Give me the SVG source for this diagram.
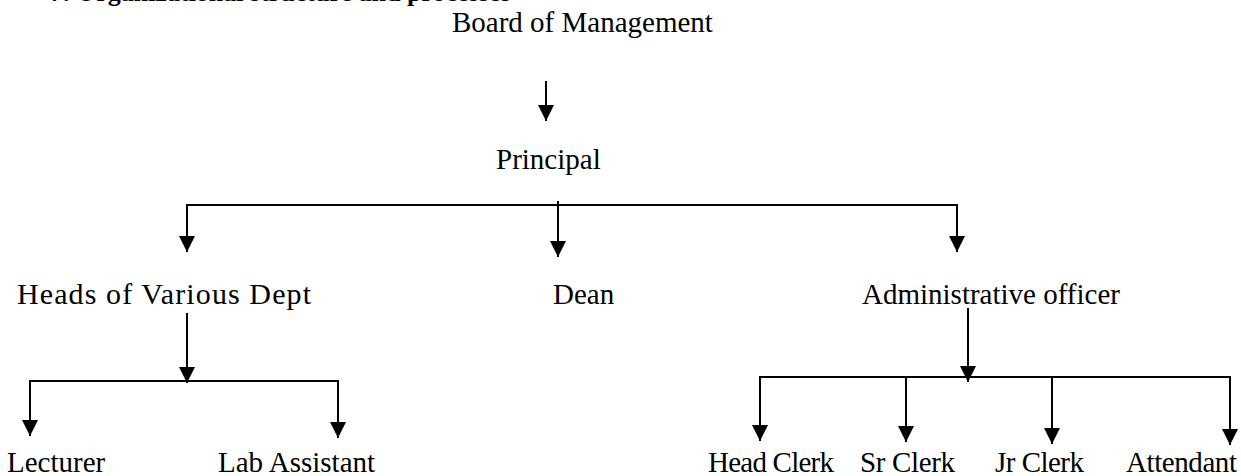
<svg xmlns="http://www.w3.org/2000/svg" width="1241" height="476" viewBox="0 0 1241 476">
  <style>
    .lbl { font-family: "Liberation Serif", "Times New Roman", serif; font-size: 29px; fill: #000; }
    .title { font-family: "Liberation Serif", "Times New Roman", serif; font-size: 26px; font-weight: bold; fill: #000; }
    .conn { stroke: #000; stroke-width: 2; fill: none; }
  </style>
  <defs>
    <marker id="down" markerUnits="userSpaceOnUse" markerWidth="16" markerHeight="16" refX="8" refY="16" orient="0" viewBox="0 0 16 16">
      <path d="M0,0 L16,0 L8,16 Z" fill="#000"/>
    </marker>
  </defs>
  <rect width="1241" height="476" fill="#fff"/>

  <text class="title" x="50" y="0.5">7. Organizational structure and processes</text>

  <g id="connectors">
    <line class="conn" x1="546" y1="81" x2="546" y2="121" marker-end="url(#down)"/>
    <polyline class="conn" points="187,252 187,205 957,205 957,252" />
    <line class="conn" x1="187" y1="236" x2="187" y2="252" marker-end="url(#down)"/>
    <line class="conn" x1="957" y1="236" x2="957" y2="252" marker-end="url(#down)"/>
    <line class="conn" x1="558" y1="201" x2="558" y2="257" marker-end="url(#down)"/>

    <line class="conn" x1="187" y1="313" x2="187" y2="383" marker-end="url(#down)"/>
    <polyline class="conn" points="30,436 30,381 338,381 338,438" />
    <line class="conn" x1="30" y1="420" x2="30" y2="436" marker-end="url(#down)"/>
    <line class="conn" x1="338" y1="422" x2="338" y2="438" marker-end="url(#down)"/>

    <line class="conn" x1="968" y1="308" x2="968" y2="382" marker-end="url(#down)"/>
    <polyline class="conn" points="760,441 760,377 1230,377 1230,445" />
    <line class="conn" x1="760" y1="425" x2="760" y2="441" marker-end="url(#down)"/>
    <line class="conn" x1="906" y1="377" x2="906" y2="442" marker-end="url(#down)"/>
    <line class="conn" x1="1052" y1="377" x2="1052" y2="444" marker-end="url(#down)"/>
    <line class="conn" x1="1230" y1="429" x2="1230" y2="445" marker-end="url(#down)"/>
  </g>

  <g id="board"><text class="lbl" x="452" y="32">Board of Management</text></g>
  <g id="principal"><text class="lbl" x="496" y="169">Principal</text></g>
  <g id="heads"><text class="lbl" x="17" y="304" style="font-size:30px" textLength="294">Heads of Various Dept</text></g>
  <g id="dean"><text class="lbl" x="553" y="304">Dean</text></g>
  <g id="admin"><text class="lbl" x="862" y="304">Administrative officer</text></g>
  <g id="lecturer"><text class="lbl" x="7" y="472">Lecturer</text></g>
  <g id="lab"><text class="lbl" x="218" y="472">Lab Assistant</text></g>
  <g id="headclerk"><text class="lbl" x="708" y="472" textLength="126">Head Clerk</text></g>
  <g id="srclerk"><text class="lbl" x="860" y="472" textLength="95">Sr Clerk</text></g>
  <g id="jrclerk"><text class="lbl" x="995" y="472" textLength="89">Jr Clerk</text></g>
  <g id="attendant"><text class="lbl" x="1126" y="472" textLength="111">Attendant</text></g>
</svg>
